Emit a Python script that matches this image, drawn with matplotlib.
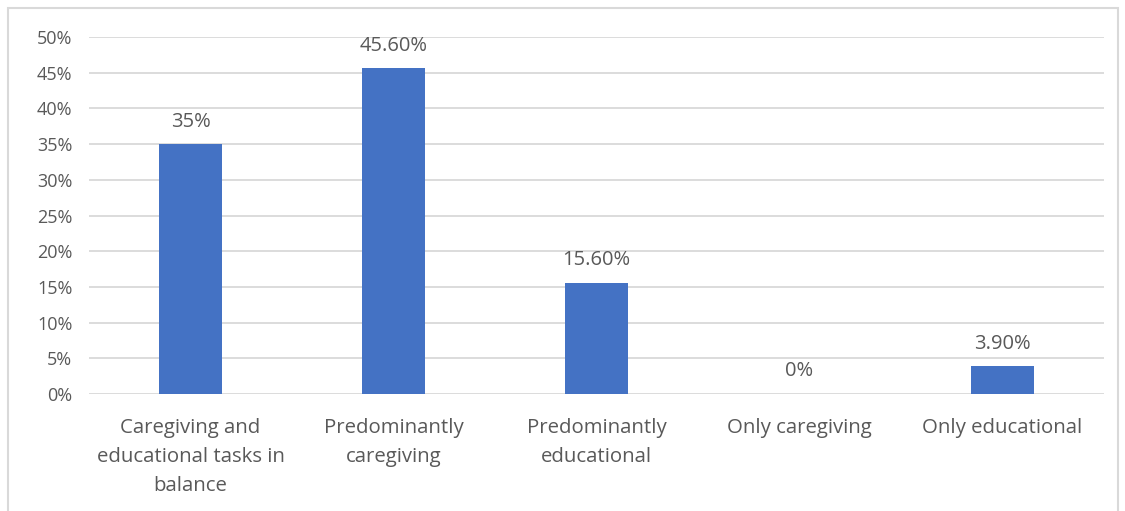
import matplotlib
matplotlib.use("Agg")
import matplotlib.pyplot as plt
from matplotlib.patches import Rectangle

categories = ["Caregiving and\neducational tasks in\nbalance", "Predominantly\ncaregiving",
              "Predominantly\neducational", "Only caregiving", "Only educational"]
values = [35.0, 45.6, 15.6, 0.0, 3.9]
value_labels = ["35%", "45.60%", "15.60%", "0%", "3.90%"]
yticks = [0, 5, 10, 15, 20, 25, 30, 35, 40, 45, 50]
ytick_labels = [f"{t}%" for t in yticks]

plt.rcParams['font.family'] = ['Open Sans', 'DejaVu Sans']
txt = '#595959'
fig = plt.figure(figsize=(11.25, 5.11), dpi=100)
fig.patches.append(Rectangle((8/1125, -0.01), (1118-8)/1125, 1 - 8/511 + 0.01,
                             transform=fig.transFigure, fill=False, edgecolor='#d9d9d9', linewidth=1.5))
ax = fig.add_axes([89/1125, 1 - 394/511, (1104-89)/1125, (394-37)/511])
x = list(range(len(categories)))
ax.bar(x, values, width=0.31, color='#4472C4', zorder=3)
ax.set_xlim(-0.5, len(categories) - 0.5)
ax.set_ylim(0, 50)
ax.set_yticks(yticks)
ax.set_yticklabels(ytick_labels, color=txt, fontsize=13)
ax.set_xticks(x)
ax.set_xticklabels(categories, color=txt, fontsize=14.7, linespacing=1.62, va='top')
ax.tick_params(axis='x', length=0, pad=17)
ax.tick_params(axis='y', length=0, pad=12)
ax.grid(axis='y', color='#d9d9d9', linewidth=1.3, zorder=0)
for s in ax.spines.values():
    s.set_visible(False)
for xi, v, lab in zip(x, values, value_labels):
    ax.annotate(lab, (xi, v), xytext=(0, 9), textcoords='offset points', ha='center', va='bottom',
                color=txt, fontsize=14.5)
fig.savefig("out.png", dpi=100)
